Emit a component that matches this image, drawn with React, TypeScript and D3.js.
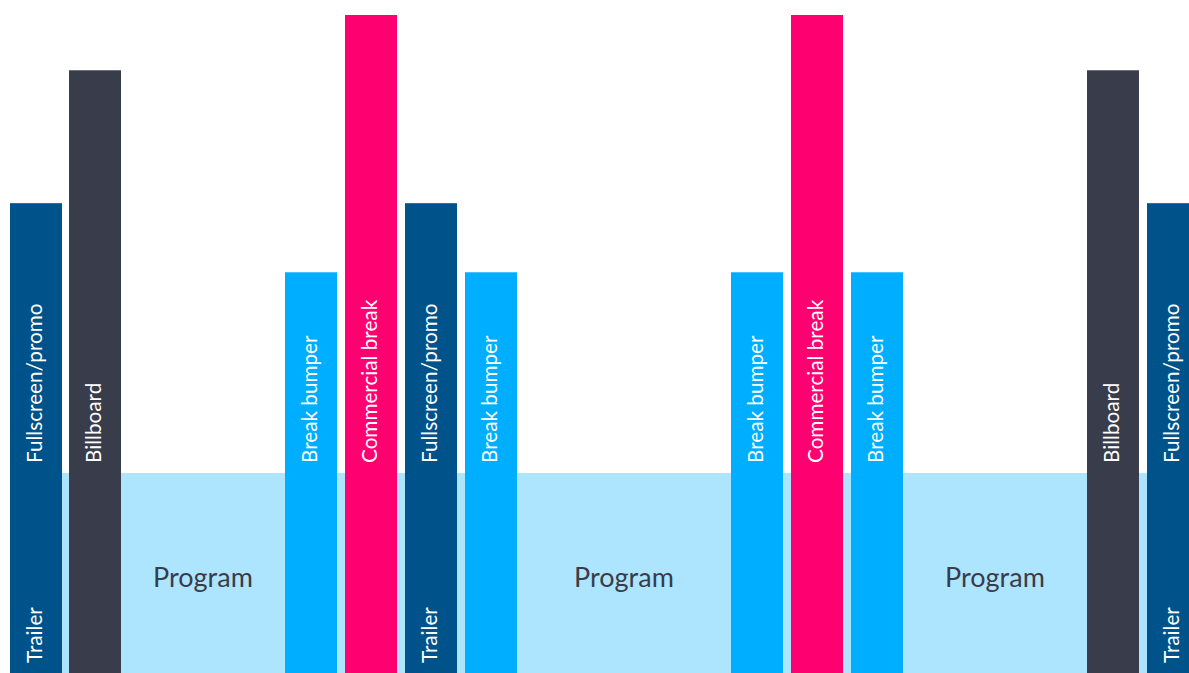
import * as d3 from "d3";

// Broadcast sequence, left to right
const labels = [
  "Fullscreen/promo", "Billboard", "Program", "Break bumper", "Commercial break",
  "Fullscreen/promo", "Break bumper", "Program", "Break bumper", "Commercial break",
  "Break bumper", "Program", "Billboard", "Fullscreen/promo",
];
const kinds = [
  "promo", "billboard", "program", "bumper", "commercial",
  "promo", "bumper", "program", "bumper", "commercial",
  "bumper", "program", "billboard", "promo",
];
// length of each segment (timeline units)
const durations = [52, 52, 164, 52, 52, 52, 52, 214, 52, 52, 52, 184, 52, 52];
// pause after each segment
const gaps = [7, 0, 0, 8, 8, 8, 0, 0, 8, 8, 0, 0, 8, 0];
const subLabels = ["Trailer", "", "", "", "", "Trailer", "", "", "", "", "", "", "", "Trailer"];

// relative level of each kind
const kindNames = ["commercial", "billboard", "promo", "bumper", "program"];
const kindLevels = [100, 91.6, 71.4, 60.9, 30.4];
const kindColors = ["#ff0070", "#393c4a", "#00538a", "#00aeff", "#ade5fe"];

const W = 1189;
const H = 673;

export default function App() {
  const level = d3.scaleOrdinal<string, number>().domain(kindNames).range(kindLevels);
  const color = d3.scaleOrdinal<string, string>().domain(kindNames).range(kindColors);

  // cumulative starts on the timeline
  const starts: number[] = [];
  let t = 0;
  durations.forEach((d, i) => {
    starts.push(t);
    t += d + gaps[i];
  });

  const x = d3.scaleLinear().domain([0, t]).range([10, 10 + t]);
  const y = d3.scaleLinear().domain([0, 100]).range([H, 15]);

  const segs = labels.map((label, i) => ({
    label,
    sub: subLabels[i],
    kind: kinds[i],
    x0: x(starts[i]),
    x1: x(starts[i] + durations[i]),
  }));

  const bars = segs.filter((s) => s.kind !== "program");
  const programs = segs.filter((s) => s.kind === "program");
  const bandTop = y(level("program"));
  const labelY = bandTop - 10;
  const font = "Lato, 'Open Sans', sans-serif";

  return (
    <div style={{ position: "absolute", left: 0, top: 0, width: W, height: H, background: "#fff" }}>
      <svg width={W} height={H} style={{ display: "block" }}>
        <rect
          x={segs[0].x1}
          y={bandTop}
          width={W - segs[0].x1}
          height={H - bandTop}
          fill={color("program")}
        />
        {programs.map((p, i) => (
          <text
            key={"p" + i}
            x={(p.x0 + p.x1) / 2}
            y={587}
            textAnchor="middle"
            fill="#393c4a"
            fontFamily={font}
            fontSize={27}
          >
            {p.label}
          </text>
        ))}
        {bars.map((b, i) => {
          const cx = (b.x0 + b.x1) / 2;
          return (
            <g key={"b" + i}>
              <rect
                x={b.x0}
                y={y(level(b.kind))}
                width={b.x1 - b.x0}
                height={H - y(level(b.kind))}
                fill={color(b.kind)}
              />
              <text
                transform={`translate(${cx + 6},${labelY}) rotate(-90)`}
                fill="#fff"
                fontFamily={font}
                fontSize={20.7}
              >
                {b.label}
              </text>
              {b.sub && (
                <text
                  transform={`translate(${cx + 6},${H - 10}) rotate(-90)`}
                  fill="#fff"
                  fontFamily={font}
                  fontSize={20.7}
                >
                  {b.sub}
                </text>
              )}
            </g>
          );
        })}
      </svg>
    </div>
  );
}
